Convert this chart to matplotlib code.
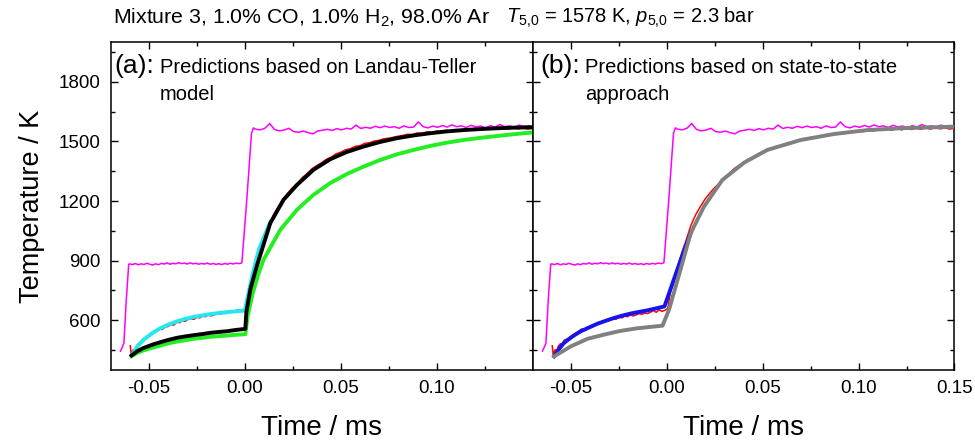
import numpy as np
import matplotlib
matplotlib.use("Agg")
import matplotlib.pyplot as plt
from matplotlib.ticker import MultipleLocator, FixedLocator

plt.rcParams["font.family"] = ["Liberation Sans", "DejaVu Sans"]
plt.rcParams["mathtext.fontset"] = "custom"
plt.rcParams["mathtext.rm"] = "Liberation Sans"
plt.rcParams["mathtext.it"] = "Liberation Sans:italic"

# --- shock tube traces (time in ms, temperature in K) ---
# magenta trace: step at incident shock, then reflected shock
mag_t1 = [-0.0648, -0.0640, -0.0630, -0.0618, -0.0605,
          -0.0600, -0.0585, -0.0570, -0.0555, -0.0540, -0.0525, -0.0510, -0.0495, -0.0480,
          -0.0465, -0.0450, -0.0435, -0.0420, -0.0405, -0.0390, -0.0375, -0.0360, -0.0345,
          -0.0330, -0.0315, -0.0300, -0.0285, -0.0270, -0.0255, -0.0240, -0.0225, -0.0210,
          -0.0195, -0.0180, -0.0165, -0.0150, -0.0135, -0.0120, -0.0105, -0.0090, -0.0075,
          -0.0060, -0.0045, -0.0030, -0.0015, 0.0010, 0.0035, 0.0045]
mag_T1 = [445, 462, 485, 700, 882,
          884, 880, 886, 879, 884, 881, 887, 882, 878,
          884, 880, 886, 883, 889, 882, 887, 884, 890,
          885, 888, 883, 889, 884, 887, 882, 886, 883,
          888, 882, 886, 881, 885, 880, 886, 882, 887,
          883, 888, 885, 889, 1200, 1540, 1568]
mag_t2 = np.arange(0.0055, 0.1506, 0.0025)  # sampling grid of the plateau
mag_T2 = [1562, 1558, 1566, 1590, 1560, 1553, 1557, 1566, 1549, 1546,
          1552, 1544, 1538, 1552, 1556, 1561, 1555, 1564, 1558, 1566,
          1562, 1582, 1565, 1571, 1566, 1576, 1569, 1577, 1570, 1574,
          1566, 1578, 1570, 1572, 1598, 1574, 1568, 1577, 1571, 1580,
          1572, 1583, 1574, 1578, 1570, 1581, 1573, 1577, 1569, 1579,
          1572, 1585, 1574, 1578, 1571, 1582, 1575, 1579, 1574]
mag_t = list(mag_t1) + list(mag_t2)
mag_T = list(mag_T1) + list(mag_T2)

# red trace: measured temperature
red_t = [-0.0597, -0.0592, -0.0588, -0.0582, -0.0575, -0.0565, -0.0555, -0.0545, -0.0535,
         -0.0525, -0.0512, -0.0500, -0.0488, -0.0475, -0.0460, -0.0445, -0.0430, -0.0415,
         -0.0400, -0.0385, -0.0370, -0.0355, -0.0340, -0.0325, -0.0310, -0.0295, -0.0280,
         -0.0265, -0.0250, -0.0235, -0.0220, -0.0205, -0.0190, -0.0175, -0.0160, -0.0145,
         -0.0130, -0.0115, -0.0100, -0.0085, -0.0070, -0.0055, -0.0040, -0.0025, -0.0010,
         0.0005, 0.0020, 0.0040, 0.0060, 0.0080, 0.0100, 0.0125, 0.0150, 0.0175, 0.0200,
         0.0225, 0.0250, 0.0275, 0.0300, 0.0325, 0.0350, 0.0375, 0.0400, 0.0425, 0.0450,
         0.0475, 0.0500, 0.0525, 0.0550, 0.0575, 0.0600, 0.0625, 0.0650, 0.0675, 0.0700,
         0.0725, 0.0750, 0.0775, 0.0800, 0.0825, 0.0850, 0.0875, 0.0900, 0.0925, 0.0950,
         0.0975, 0.1000, 0.1025, 0.1050, 0.1075, 0.1100, 0.1125, 0.1150, 0.1175, 0.1200,
         0.1225, 0.1250, 0.1275, 0.1300, 0.1325, 0.1350, 0.1375, 0.1400, 0.1425, 0.1450,
         0.1475, 0.1500]
red_T = [472, 428, 437, 452, 446, 470, 482, 478, 500,
         504, 510, 519, 526, 536, 543, 556, 554, 566,
         569, 578, 576, 590, 588, 598, 595, 605, 608,
         605, 616, 612, 621, 618, 627, 622, 627, 634,
         630, 637, 634, 641, 649, 640, 653, 645, 650,
         660, 745, 820, 880, 945, 1000, 1075, 1130, 1172, 1210,
         1240, 1268, 1290, 1318, 1338, 1362, 1378, 1392, 1410, 1420,
         1437, 1445, 1458, 1463, 1475, 1478, 1490, 1493, 1502, 1505,
         1513, 1516, 1521, 1526, 1530, 1536, 1534, 1543, 1540, 1548,
         1545, 1552, 1549, 1556, 1552, 1560, 1555, 1562, 1557, 1565,
         1558, 1566, 1560, 1567, 1561, 1568, 1562, 1569, 1563, 1568,
         1562, 1566]

# panel (a): Landau-Teller predictions
cyan_t = [-0.0590, -0.0560, -0.0527, -0.0480, -0.0440, -0.0400, -0.0353, -0.0310, -0.0267,
          -0.0220, -0.0180, -0.0140, -0.0093, -0.0050, 0.0000, 0.0020, 0.0045, 0.0075, 0.0133]
cyan_T = [423, 468, 503, 537, 560, 578, 595, 607, 617,
          625, 631, 636, 641, 645, 649, 740, 850, 960, 1095]

black_t = [-0.0590, -0.0560, -0.0527, -0.0480, -0.0440, -0.0400, -0.0353, -0.0310, -0.0267,
           -0.0220, -0.0180, -0.0140, -0.0093, -0.0050, 0.0003, 0.0008, 0.0030, 0.0065,
           0.0133, 0.0202, 0.0272, 0.0358, 0.0445, 0.0530, 0.0619, 0.0705, 0.0793, 0.0880,
           0.0966, 0.1050, 0.1140, 0.1230, 0.1314, 0.1400, 0.1500]
black_T = [423, 445, 461, 478, 490, 501, 512, 519, 525,
           531, 537, 541, 545, 551, 557, 640, 760, 880,
           1089, 1206, 1281, 1357, 1410, 1446, 1474, 1497, 1516, 1530,
           1541, 1550, 1557, 1562, 1566, 1569, 1571]

green_t = [-0.0590, -0.0560, -0.0527, -0.0480, -0.0440, -0.0400, -0.0353, -0.0310, -0.0267,
           -0.0220, -0.0180, -0.0140, -0.0093, -0.0050, 0.0003, 0.0015, 0.0040, 0.0070,
           0.0098, 0.0185, 0.0272, 0.0358, 0.0445, 0.0530, 0.0619, 0.0705, 0.0793, 0.0880,
           0.0966, 0.1050, 0.1140, 0.1230, 0.1314, 0.1400, 0.1500]
green_T = [420, 436, 449, 462, 473, 484, 493, 500, 507,
           512, 517, 520, 523, 527, 530, 620, 730, 830,
           905, 1055, 1156, 1231, 1290, 1335, 1373, 1406, 1435, 1457,
           1477, 1493, 1507, 1518, 1527, 1536, 1545]

# panel (b): state-to-state predictions
blue_t = [-0.0587, -0.0560, -0.0535, -0.0490, -0.0448, -0.0400, -0.0361, -0.0320, -0.0274,
          -0.0230, -0.0188, -0.0140, -0.0101, -0.0060, -0.0012, 0.0073, 0.0125]
blue_T = [419, 458, 487, 520, 545, 566, 583, 597, 612,
          624, 634, 643, 650, 659, 670, 905, 1039]

gray_t = [-0.0587, -0.0500, -0.0413, -0.0327, -0.0240, -0.0153, -0.0022, 0.0012, 0.0073,
          0.0125, 0.0194, 0.0290, 0.0403, 0.0524, 0.0698, 0.0871, 0.1045, 0.1219, 0.1488]
gray_T = [419, 469, 507, 528, 547, 560, 573, 654, 860,
          1039, 1172, 1306, 1393, 1457, 1507, 1537, 1557, 1566, 1574]

x_ticks_a = [-0.05, 0.00, 0.05, 0.10]
x_ticks_b = [-0.05, 0.00, 0.05, 0.10, 0.15]
y_ticks = [600, 900, 1200, 1500, 1800]

W, H = 975, 442
fig = plt.figure(figsize=(W / 100, H / 100), dpi=100)
ax1 = fig.add_axes([110.5 / W, 1 - 370 / H, 422 / W, 328 / H])
ax2 = fig.add_axes([532.5 / W, 1 - 370 / H, 422 / W, 328 / H])

ax1.plot(mag_t, mag_T, color="#ff00ff", lw=1.1, zorder=2)
ax1.plot(red_t, red_T, color="#ff0000", lw=1.1, zorder=3)
ax1.plot(green_t, green_T, color="#22ee22", lw=2.8, zorder=4)
ax1.plot(cyan_t, cyan_T, color="#22e8f0", lw=2.8, zorder=5)
ax1.plot(black_t, black_T, color="black", lw=2.8, zorder=6)

ax2.plot(mag_t, mag_T, color="#ff00ff", lw=1.1, zorder=2)
ax2.plot(red_t, red_T, color="#ff0000", lw=1.1, zorder=3)
ax2.plot(blue_t, blue_T, color="#1414f0", lw=2.8, zorder=4)
ax2.plot(gray_t, gray_T, color="#808080", lw=2.8, zorder=5)

for ax, xt in ((ax1, x_ticks_a), (ax2, x_ticks_b)):
    ax.set_xlim(-0.07, 0.15)
    ax.set_ylim(350, 2000)
    ax.xaxis.set_major_locator(FixedLocator(xt))
    ax.xaxis.set_minor_locator(FixedLocator([-0.025, 0.025, 0.075, 0.125, 0.15]))
    ax.yaxis.set_major_locator(FixedLocator(y_ticks))
    ax.yaxis.set_minor_locator(MultipleLocator(150))
    ax.set_xticklabels([f"{v:.2f}" for v in xt], fontsize=13.5)
    ax.tick_params(which="both", direction="in", top=True, right=True, width=1.0)
    ax.tick_params(which="major", length=5, pad=7)
    ax.tick_params(which="minor", length=3)
    for s in ax.spines.values():
        s.set_linewidth(1.1)
    ax.set_xlabel("Time / ms", fontsize=20, labelpad=13)

ax1.set_yticklabels([str(v) for v in y_ticks], fontsize=13.5)
ax2.set_yticklabels([])
ax1.set_ylabel("Temperature / K", fontsize=19.5, labelpad=10)

def px(x, y):
    return x / W, 1 - y / H

fig.text(*px(113, 18), "Mixture 3, 1.0% CO, 1.0% H$_2$, 98.0% Ar", fontsize=15.3, va="center")
fig.text(*px(506, 18), "$T_{5{,}0}$ = 1578 K, $p_{5{,}0}$ = 2.3 bar", fontsize=14.5, va="center")

fig.text(*px(114, 73), "(a):", fontsize=19, va="baseline")
fig.text(*px(160, 73), "Predictions based on Landau-Teller", fontsize=14.5, va="baseline")
fig.text(*px(160, 100), "model", fontsize=14.5, va="baseline")
fig.text(*px(540, 73), "(b):", fontsize=19, va="baseline")
fig.text(*px(585, 73), "Predictions based on state-to-state", fontsize=14.5, va="baseline")
fig.text(*px(585, 100), "approach", fontsize=14.5, va="baseline")

fig.savefig("out.png", dpi=100)
